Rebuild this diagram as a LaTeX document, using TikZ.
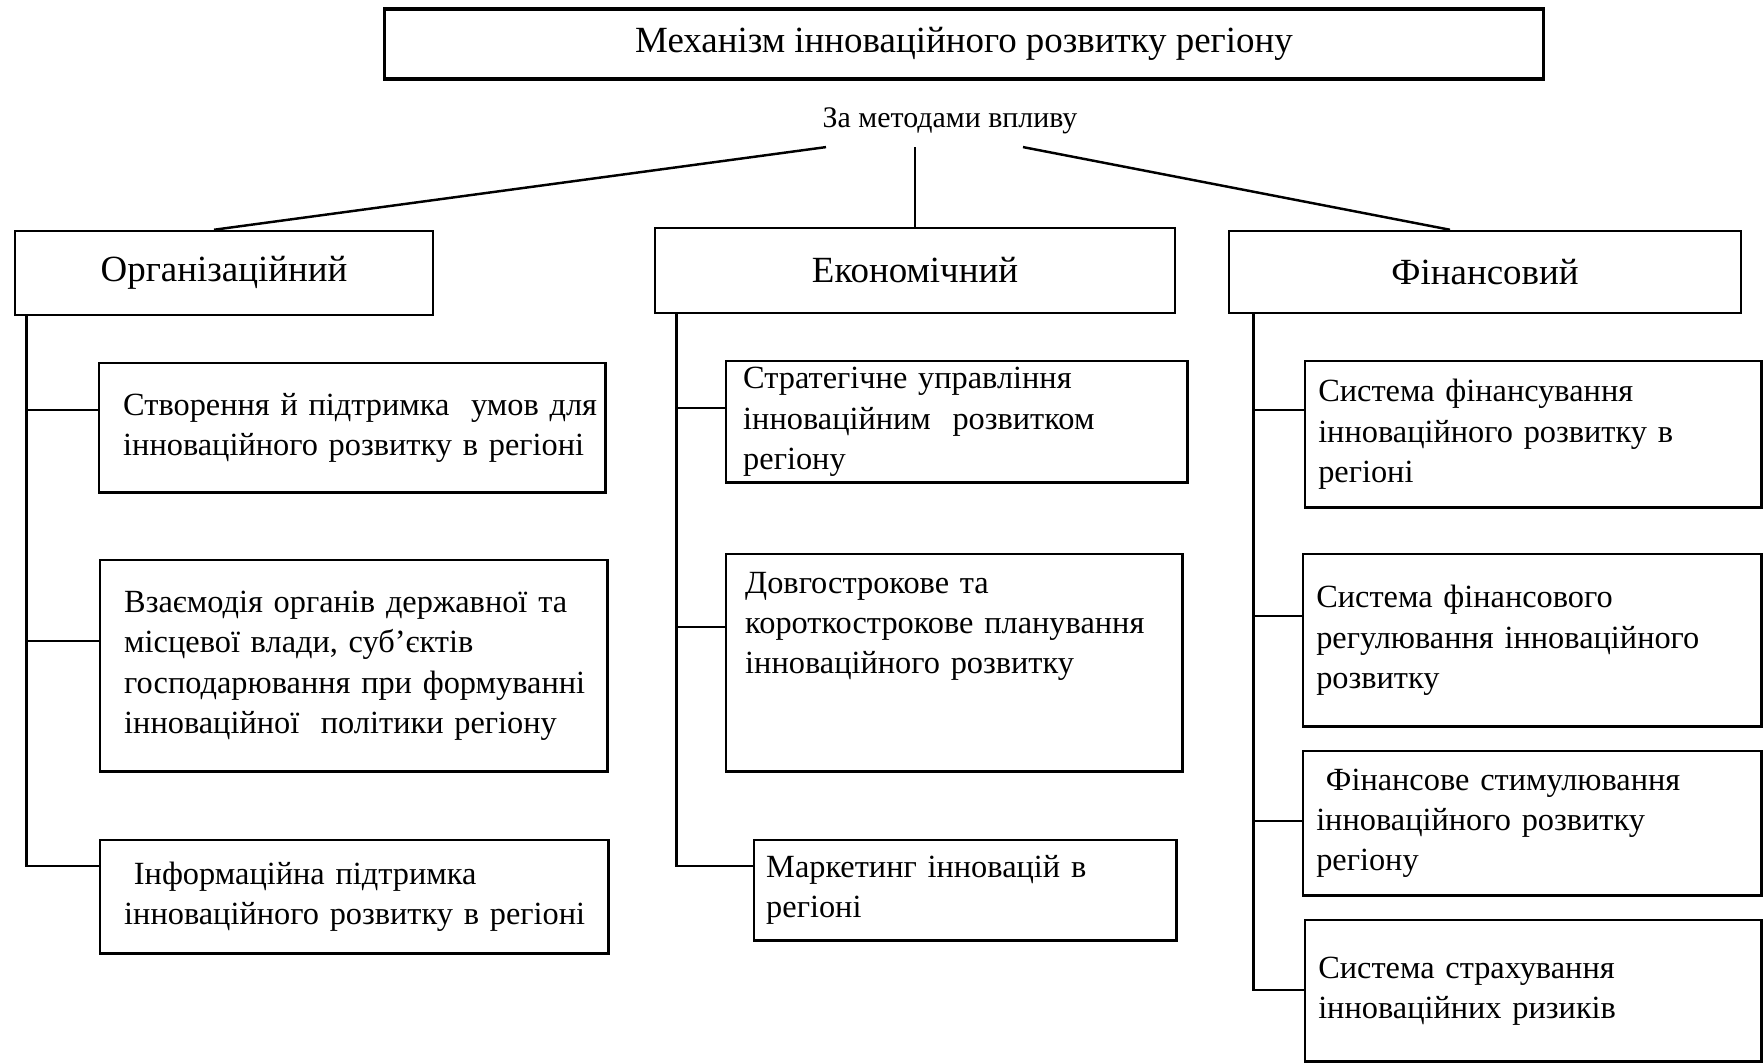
\documentclass[tikz,border=0pt]{standalone}
\usepackage{fontspec}
\setmainfont{Liberation Serif}
\usetikzlibrary{calc}

\begin{document}
\begin{tikzpicture}[x=0.01cm, y=-0.01cm, line width=0.7pt,
    head/.style={draw, inner sep=0pt, font=\fontsize{10.5}{12.6}\selectfont},
    itembox/.style n args={3}{draw, anchor=north west, align=left,
      inner xsep=0pt, inner ysep=0pt, text width=#1, minimum height=#2,
      execute at begin node={\leftskip=#3},
      font=\fontsize{9.2}{11.4}\selectfont}]
        \useasboundingbox (0,0) rectangle (1763,1062);
        % Top of the scheme
        \node[head, minimum width=11.58cm, minimum height=0.70cm, line width=0.9pt] (mech) at (964,44) {Механізм інноваційного розвитку регіону};
        \node[font=\fontsize{8.5}{10}\selectfont] (meth) at (950,121) {За методами впливу};
        \node[head, minimum width=4.18cm, minimum height=0.84cm] (org) at (224,273) {Організаційний};
        \node[head, minimum width=5.20cm, minimum height=0.85cm] (econ) at (915,270.5) {Економічний};
        \node[head, minimum width=5.12cm, minimum height=0.82cm] (fin) at (1485,272) {Фінансовий};
        \draw ($(meth.south)+(-124,0)$) -- ($(org.north)+(-10,0)$);
        \draw (meth.south -| econ.north) -- (econ.north);
        \draw ($(meth.south)+(73,0)$) -- ($(fin.north)+(-35,0)$);
        % Organisational branch
        \node[itembox={5.06cm}{1.29cm}{0.24cm}] (L1) at (98,362) {Створення й підтримка~ умов для\\інноваційного розвитку в регіоні};
        \node[itembox={5.07cm}{2.11cm}{0.24cm}] (L2) at (99,559) {Взаємодія органів державної та\\місцевої влади, суб’єктів\\господарювання при формуванні\\інноваційної~ політики регіону};
        \node[itembox={5.08cm}{1.13cm}{0.24cm}] (L3) at (99,839) {\hspace*{0.3em}Інформаційна підтримка\\інноваційного розвитку в регіоні};
        \coordinate (sO) at ($(org.south west)+(13,0)$);
        \coordinate (l1) at ($(L1.north west)+(0,48)$);
        \coordinate (l2) at ($(L2.north west)+(0,82)$);
        \coordinate (l3) at ($(L3.north west)+(0,27)$);
        \draw (sO) |- (l3);
        \draw (sO |- l1) -- (l1);
        \draw (sO |- l2) -- (l2);
        % Economic branch
        \node[itembox={4.61cm}{1.21cm}{0.17cm}] (M1) at (725,360) {Стратегічне управління\\інноваційним~ розвитком\\регіону};
        \node[itembox={4.56cm}{2.17cm}{0.19cm}] (M2) at (725,553) {Довгострокове та\\короткострокове планування\\інноваційного розвитку\\\mbox{}\\\mbox{}};
        \node[itembox={4.22cm}{1.00cm}{0.12cm}] (M3) at (753,839) {Маркетинг інновацій в\\регіоні};
        \coordinate (sE) at ($(econ.south west)+(23,0)$);
        \coordinate (m1) at ($(M1.north west)+(0,48)$);
        \coordinate (m2) at ($(M2.north west)+(0,74)$);
        \coordinate (m3) at ($(M3.north west)+(0,27)$);
        \draw (sE) |- (m3);
        \draw (sE |- m1) -- (m1);
        \draw (sE |- m2) -- (m2);
        % Financial branch
        \node[itembox={4.56cm}{1.46cm}{0.13cm}] (R1) at (1304,360) {Система фінансування\\інноваційного розвитку в\\регіоні};
        \node[itembox={4.58cm}{1.72cm}{0.13cm}] (R2) at (1302,553) {Система фінансового\\регулювання інноваційного\\розвитку};
        \node[itembox={4.58cm}{1.44cm}{0.13cm}] (R3) at (1302,750) {\hspace*{0.3em}Фінансове стимулювання\\інноваційного розвитку\\регіону};
        \node[itembox={4.56cm}{1.41cm}{0.13cm}] (R4) at (1304,919) {Система страхування\\інноваційних ризиків};
        \coordinate (sF) at ($(fin.south west)+(26,0)$);
        \coordinate (r1) at ($(R1.north west)+(0,50)$);
        \coordinate (r2) at ($(R2.north west)+(0,63)$);
        \coordinate (r3) at ($(R3.north west)+(0,71)$);
        \coordinate (r4) at ($(R4.north west)+(0,71)$);
        \draw (sF) |- (r4);
        \draw (sF |- r1) -- (r1);
        \draw (sF |- r2) -- (r2);
        \draw (sF |- r3) -- (r3);
      \end{tikzpicture}
\end{document}
